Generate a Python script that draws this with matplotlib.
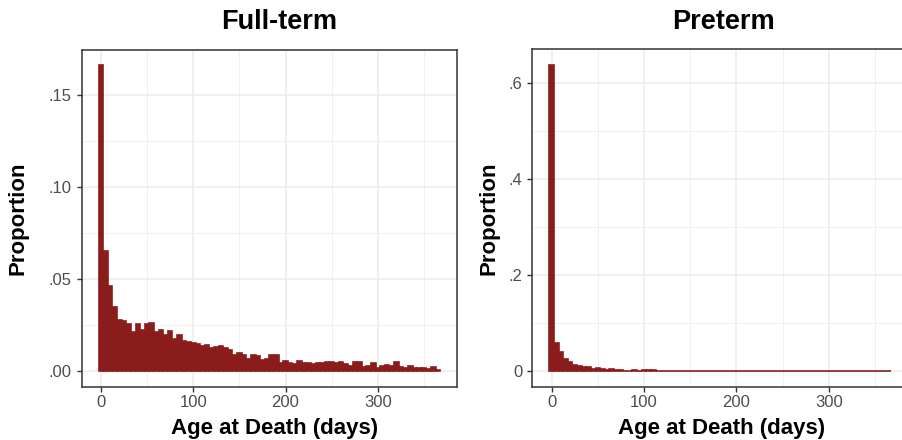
import numpy as np
import matplotlib
matplotlib.use('Agg')
import matplotlib.pyplot as plt

plt.rcParams['font.family'] = ['Liberation Sans', 'DejaVu Sans']

# bin centres, 5-day bins from 0 to 365
bin_width = 5
age_bins = np.arange(0, 366, bin_width)

# proportion of deaths per bin
full_term = [0.1663, 0.0652, 0.0462, 0.0348, 0.0277, 0.0272, 0.0255, 0.0212,
             0.0255, 0.0223, 0.0255, 0.0261, 0.0212, 0.0223, 0.0196, 0.0217,
             0.0174, 0.0196, 0.0163, 0.0158, 0.0152, 0.0147, 0.0136, 0.0141,
             0.0125, 0.0130, 0.0136, 0.0125, 0.0114, 0.0087, 0.0098, 0.0087,
             0.0065, 0.0087, 0.0082, 0.0060, 0.0065, 0.0090, 0.0090, 0.0043,
             0.0057, 0.0047, 0.0038, 0.0057, 0.0043, 0.0043, 0.0038, 0.0043,
             0.0043, 0.0052, 0.0052, 0.0043, 0.0049, 0.0038, 0.0031, 0.0049,
             0.0049, 0.0023, 0.0032, 0.0043, 0.0020, 0.0031, 0.0036, 0.0031,
             0.0049, 0.0025, 0.0020, 0.0031, 0.0020, 0.0020, 0.0020, 0.0014,
             0.0025, 0.0009]
preterm = ([0.6380, 0.0595, 0.0405, 0.0265, 0.0200, 0.0138, 0.0117, 0.0096,
            0.0096, 0.0054, 0.0075, 0.0054, 0.0034, 0.0054, 0.0034, 0.0034,
            0.0013, 0.0013, 0.0034, 0.0013, 0.0034, 0.0034, 0.0034]
           + [0.0012] * 15 + [0.0] * 36)

panels = ['Full-term', 'Preterm']
series = [full_term, preterm]
y_ticks = [[0, 0.05, 0.10, 0.15], [0, 0.2, 0.4, 0.6]]
y_labels = [['.00', '.05', '.10', '.15'], ['0', '.2', '.4', '.6']]
y_minor = [[0.025, 0.075, 0.125], [0.1, 0.3, 0.5]]
x_ticks = [0, 100, 200, 300]
x_minor = [50, 150, 250, 350]

bar_col = '#8B1C1C'
W, H = 902, 440

fig = plt.figure(figsize=(W / 100, H / 100), dpi=100, facecolor='white')

# axes boxes in pixels: left, top, right, bottom
boxes = [(81.5, 50, 457.3, 386.7), (532.3, 49.5, 908.1, 386.7)]
ylab_x = [18, 489]
title_x = [279, 723]
xlab_x = [275, 722]

for i in range(2):
    l, t, r, b = boxes[i]
    ax = fig.add_axes([l / W, 1 - b / H, (r - l) / W, (b - t) / H])
    vals = np.array(series[i])
    ax.bar(age_bins, vals, width=bin_width, color=bar_col, edgecolor=bar_col,
           linewidth=1.2, zorder=3)
    lo, hi = -2.5, 367.5
    ax.set_xlim(lo - 0.05 * (hi - lo), hi + 0.05 * (hi - lo))
    ymax = vals.max()
    ax.set_ylim(-0.05 * ymax, 1.05 * ymax)

    ax.set_xticks(x_ticks)
    ax.set_xticks(x_minor, minor=True)
    ax.set_yticks(y_ticks[i])
    ax.set_yticklabels(y_labels[i])
    ax.set_yticks(y_minor[i], minor=True)
    ax.grid(True, which='major', color='#EBEBEB', linewidth=1.1, zorder=0)
    ax.grid(True, which='minor', color='#F0F0F0', linewidth=0.7, zorder=0)
    ax.set_axisbelow(True)
    ax.tick_params(which='major', length=3.3, width=1.0, color='#333333',
                   labelcolor='#4D4D4D', labelsize=12)
    ax.tick_params(axis='x', which='major', pad=3)
    ax.tick_params(axis='y', which='major', pad=4)
    ax.tick_params(which='minor', length=0)
    for s in ax.spines.values():
        s.set_color('#333333')
        s.set_linewidth(1.1)

    fig.text(title_x[i] / W, 1 - 29.3 / H, panels[i], ha='center',
             va='baseline', fontsize=19.5, fontweight='bold')
    fig.text(xlab_x[i] / W, 1 - 434 / H, 'Age at Death (days)', ha='center',
             va='baseline', fontsize=16, fontweight='bold')
    fig.text(ylab_x[i] / W, 1 - 218.4 / H, 'Proportion', rotation=90,
             ha='center', va='center', fontsize=16, fontweight='bold')

fig.savefig('out.png', dpi=100, facecolor='white')
